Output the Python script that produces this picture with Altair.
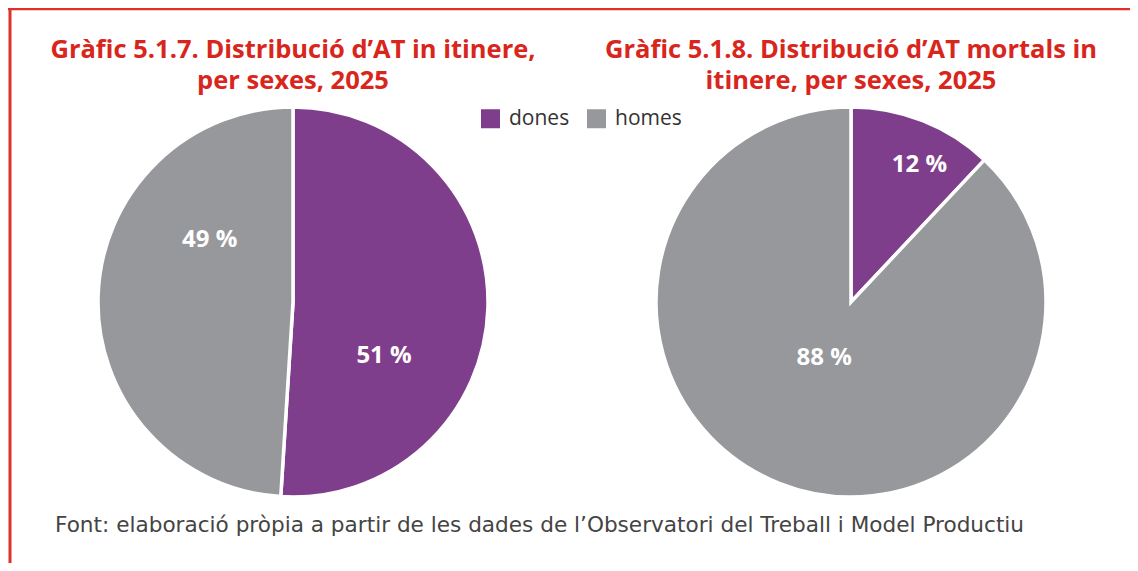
import math
import altair as alt
import pandas as pd

# ---- data ----
sexes = ["dones", "homes"]
at_itinere = [51, 49]          # Gràfic 5.1.7 (%)
at_mortals = [12, 88]          # Gràfic 5.1.8 (%)
titles = [
    ["Gràfic 5.1.7. Distribució d’AT in itinere,", "per sexes, 2025"],
    ["Gràfic 5.1.8. Distribució d’AT mortals in", "itinere, per sexes, 2025"],
]
source = "Font: elaboració pròpia a partir de les dades de l’Observatori del Treball i Model Productiu"

# ---- style ----
W, H = 1122, 555
FONT = "Open Sans"
PURPLE, GREY = "#7f3e8b", "#97989b"
RED = "#d9261c"
R = 195
centers = [(285, 294), (843, 294)]
title_line_y = [50, 81]
# label placement (angle nudge in degrees from slice middle, radius in px)
label_shift = [[29, 35], [5, 4]]
label_radius = [[106, 104], [153, 62]]

def pie_df(values):
    return pd.DataFrame({"sexe": sexes, "value": values, "ord": list(range(len(values)))})

def label_df(values, shifts, radii):
    rows = []
    cum = 0
    total = sum(values)
    for s, v, sh, r in zip(sexes, values, shifts, radii):
        mid = (cum + v / 2) / total * 2 * math.pi
        rows.append({"sexe": s, "txt": f"{v} %", "lt": mid + math.radians(sh), "lr": r})
        cum += v
    return pd.DataFrame(rows)

color = alt.Color(
    "sexe:N",
    scale=alt.Scale(domain=sexes, range=[PURPLE, GREY]),
    legend=alt.Legend(
        title=None, orient="none", legendX=472, legendY=100, direction="horizontal",
        symbolType="square", symbolSize=361, symbolStrokeWidth=0, symbolOpacity=1,
        labelFontSize=21, labelFont=FONT, labelColor="#333333", labelOffset=8,
        columnPadding=16, padding=0,
    ),
)

layers = []
for (cx, cy), vals, sh, rr in zip(centers, [at_itinere, at_mortals], label_shift, label_radius):
    pie = alt.Chart(pie_df(vals)).mark_arc(
        x=cx, y=cy, outerRadius=R, stroke="white", strokeWidth=3.5
    ).encode(
        theta=alt.Theta("value:Q", stack=True),
        color=color,
        order=alt.Order("ord:Q"),
    )
    lab = alt.Chart(label_df(vals, sh, rr)).mark_text(
        x=cx, y=cy, font=FONT, fontSize=24, fontWeight="bold", color="white",
        align="center", baseline="middle"
    ).encode(
        theta=alt.Theta("lt:Q", scale=None),
        radius=alt.Radius("lr:Q", scale=None),
        text="txt:N",
    )
    layers += [pie, lab]

title_layers = []
for (cx, _), lines in zip(centers, titles):
    for line, ty in zip(lines, title_line_y):
        title_layers.append(
            alt.Chart(pd.DataFrame({"t": [line]})).mark_text(
                x=cx, y=ty, font=FONT, fontSize=25.5, fontWeight="bold", color=RED,
                align="center", baseline="alphabetic"
            ).encode(text="t:N")
        )

src = alt.Chart(pd.DataFrame({"t": [source]})).mark_text(
    x=47, y=524, font="DejaVu Sans", fontSize=21.6, color="#444444", align="left", baseline="alphabetic"
).encode(text="t:N")

border_top = alt.Chart(pd.DataFrame({"a": [0]})).mark_rule(color="#e0302a", strokeWidth=2.5).encode(
    x=alt.value(0), x2=alt.value(W), y=alt.value(1)
)
border_left = alt.Chart(pd.DataFrame({"a": [0]})).mark_rule(color="#e0302a", strokeWidth=3).encode(
    x=alt.value(2), y=alt.value(0), y2=alt.value(H)
)

chart = alt.layer(*layers, *title_layers, src, border_top, border_left).properties(
    width=W, height=H, padding=0, autosize="none", background="white"
).configure_view(stroke=None)

chart.save("out.html", embed_options={"renderer": "svg", "actions": False})
